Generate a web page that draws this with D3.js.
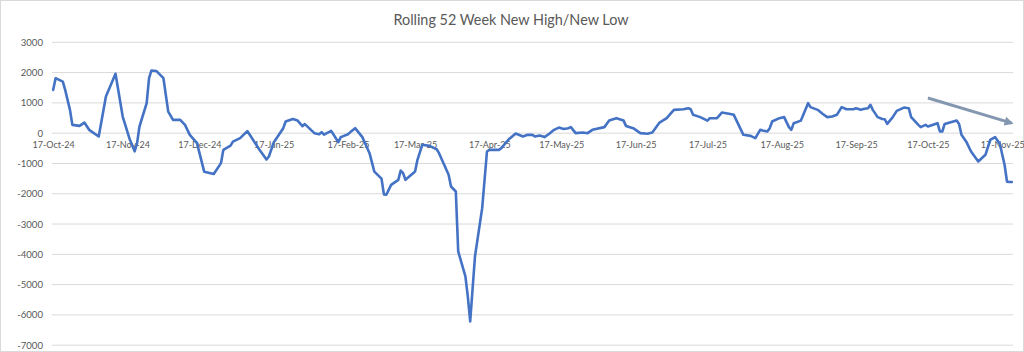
<!DOCTYPE html>
<html>
<head>
<meta charset="utf-8">
<script src="https://cdn.jsdelivr.net/npm/d3@7"></script>
<style>
  html, body { margin: 0; padding: 0; background: #fff; }
  svg { display: block; }
</style>
</head>
<body>
<svg id="chart" width="1024" height="352"></svg>
<script>
const title = "Rolling 52 Week New High/New Low";

const dates = [
  "2024-10-17","2024-10-18","2024-10-21","2024-10-22","2024-10-24","2024-10-25","2024-10-28","2024-10-30",
  "2024-11-01","2024-11-05","2024-11-08","2024-11-12","2024-11-15","2024-11-18","2024-11-20","2024-11-21",
  "2024-11-22","2024-11-25","2024-11-26","2024-11-27","2024-11-29","2024-12-02","2024-12-04","2024-12-06",
  "2024-12-09","2024-12-11","2024-12-13","2024-12-16","2024-12-19","2024-12-23","2024-12-26","2024-12-27",
  "2024-12-30","2024-12-31","2025-01-03","2025-01-06","2025-01-11","2025-01-14","2025-01-15","2025-01-17",
  "2025-01-21","2025-01-22","2025-01-25","2025-01-27","2025-01-29","2025-01-30","2025-02-03","2025-02-05",
  "2025-02-06","2025-02-07","2025-02-10","2025-02-13","2025-02-14","2025-02-17","2025-02-18","2025-02-20",
  "2025-02-23","2025-02-26","2025-02-28","2025-03-03","2025-03-04","2025-03-05","2025-03-07","2025-03-10",
  "2025-03-11","2025-03-12","2025-03-13","2025-03-17","2025-03-18","2025-03-20","2025-03-23","2025-03-26",
  "2025-03-27","2025-03-31","2025-04-01","2025-04-03","2025-04-04","2025-04-07","2025-04-08","2025-04-09",
  "2025-04-11","2025-04-14","2025-04-16","2025-04-17","2025-04-21","2025-04-22","2025-04-25","2025-04-28",
  "2025-05-01","2025-05-03","2025-05-05","2025-05-06","2025-05-08","2025-05-10","2025-05-12","2025-05-14",
  "2025-05-16","2025-05-18","2025-05-20","2025-05-21","2025-05-23","2025-05-26","2025-05-28","2025-05-30",
  "2025-06-04","2025-06-06","2025-06-09","2025-06-12","2025-06-13","2025-06-16","2025-06-19","2025-06-22",
  "2025-06-24","2025-06-27","2025-06-30","2025-07-03","2025-07-07","2025-07-09","2025-07-10","2025-07-11",
  "2025-07-14","2025-07-17","2025-07-18","2025-07-21","2025-07-23","2025-07-26","2025-07-28","2025-07-30",
  "2025-08-01","2025-08-04","2025-08-06","2025-08-08","2025-08-09","2025-08-11","2025-08-12","2025-08-13",
  "2025-08-16","2025-08-18","2025-08-20","2025-08-21","2025-08-22","2025-08-25","2025-08-26","2025-08-28",
  "2025-08-29","2025-09-01","2025-09-03","2025-09-05","2025-09-07","2025-09-09","2025-09-11","2025-09-13",
  "2025-09-16","2025-09-17","2025-09-19","2025-09-20","2025-09-22","2025-09-23","2025-09-24","2025-09-26",
  "2025-09-28","2025-09-29","2025-09-30","2025-10-02","2025-10-04","2025-10-07","2025-10-09","2025-10-10",
  "2025-10-13","2025-10-14","2025-10-16","2025-10-17","2025-10-21","2025-10-22","2025-10-23","2025-10-24",
  "2025-10-29","2025-10-30","2025-10-31","2025-11-02","2025-11-04","2025-11-07","2025-11-10","2025-11-12",
  "2025-11-14","2025-11-16","2025-11-18","2025-11-19","2025-11-20","2025-11-21"
];

const values = [
  1430,1815,1700,1430,770,275,240,350,
  110,-110,1210,1960,550,-220,-600,-330,
  220,990,1815,2070,2055,1815,710,440,
  440,275,-55,-330,-1270,-1350,-990,-550,
  -410,-280,-165,70,-540,-870,-770,-310,
  165,385,465,415,230,300,0,-35,
  35,-50,75,-300,-130,-35,35,165,
  -130,-660,-1270,-1500,-2020,-2035,-1705,-1540,
  -1235,-1320,-1540,-1265,-880,-385,-420,-530,
  -660,-1375,-1760,-1925,-3905,-4730,-5390,-6215,
  -4070,-2475,-605,-550,-550,-495,-210,-10,
  -110,-55,-55,-110,-80,-130,-20,110,
  185,140,165,200,0,20,0,110,
  200,415,495,415,240,165,0,-20,
  20,350,495,770,790,825,790,605,
  530,415,495,495,680,640,605,275,
  -55,-90,-165,110,85,55,165,385,
  495,530,200,110,330,415,605,990,
  860,770,640,530,550,605,860,790,
  790,825,770,800,825,935,770,530,
  470,460,305,495,735,845,825,530,
  275,200,275,220,330,55,55,305,
  415,305,-55,-280,-605,-935,-715,-220,
  -130,-350,-1050,-1600,-1610,-1610
];

const xTickLabels = ["17-Oct-24","17-Nov-24","17-Dec-24","17-Jan-25","17-Feb-25","17-Mar-25","17-Apr-25",
  "17-May-25","17-Jun-25","17-Jul-25","17-Aug-25","17-Sep-25","17-Oct-25","17-Nov-25"];
const yTicks = [3000,2000,1000,0,-1000,-2000,-3000,-4000,-5000,-6000,-7000];

// trend arrow annotation (start and end in data space)
const arrowFrom = { date: "2025-10-17", value: 1160 };
const arrowTo   = { date: "2025-11-21", value: 330 };

const parse = d3.timeParse("%Y-%m-%d");
const parseLabel = d3.timeParse("%d-%b-%y");
const data = dates.map((d, i) => ({ date: parse(d), value: values[i] }));

const svg = d3.select("#chart");
const W = 1024, H = 352;
const pLeft = 52, pRight = 1013, pTop = 42.3, pBottom = 345.2;
const txt = "#595959";
const font = "Lato, 'Open Sans', sans-serif";

// chart border
svg.append("rect").attr("x", 0.5).attr("y", 0.5).attr("width", W - 1).attr("height", H - 1)
  .attr("fill", "#fff").attr("stroke", "#d9d9d9").attr("stroke-width", 1);

const first = data[0].date, last = data[data.length - 1].date;
const x = d3.scaleTime()
  .domain([d3.timeHour.offset(first, -12), d3.timeHour.offset(last, 12)])
  .range([pLeft, pRight]);
const y = d3.scaleLinear().domain([-7000, 3000]).range([pBottom, pTop]);

// gridlines
svg.append("g").selectAll("line").data(yTicks).join("line")
  .attr("x1", pLeft).attr("x2", pRight)
  .attr("y1", d => y(d)).attr("y2", d => y(d))
  .attr("stroke", "#d9d9d9").attr("stroke-width", 1);

// y axis labels
const yAxis = d3.axisLeft(y).tickValues(yTicks).tickSize(0).tickPadding(9)
  .tickFormat(d => String(d));
const gy = svg.append("g").attr("transform", `translate(${pLeft},0)`).call(yAxis);
gy.select(".domain").remove();
gy.selectAll("text").attr("fill", txt).style("font-family", font).style("font-size", "9.6px");

// x axis labels at zero line
const xAxis = d3.axisBottom(x).tickValues(xTickLabels.map(parseLabel)).tickSize(0).tickPadding(8.5)
  .tickFormat((d, i) => xTickLabels[i]);
const gx = svg.append("g").attr("transform", `translate(0,${y(0)})`).call(xAxis);
gx.select(".domain").remove();
gx.selectAll("text").attr("fill", txt).style("font-family", font).style("font-size", "9px");

// line
const line = d3.line().x(d => x(d.date)).y(d => y(d.value));
svg.append("path").datum(data)
  .attr("d", line)
  .attr("fill", "none")
  .attr("stroke", "#4472c4")
  .attr("stroke-width", 2.6)
  .attr("stroke-linejoin", "round")
  .attr("stroke-linecap", "round");

// arrow
const defs = svg.append("defs");
defs.append("marker").attr("id", "ah")
  .attr("viewBox", "0 0 10 10").attr("refX", 8).attr("refY", 5)
  .attr("markerWidth", 3.4).attr("markerHeight", 3).attr("markerUnits", "strokeWidth")
  .attr("orient", "auto")
  .append("path").attr("d", "M0,0 L10,5 L0,10 Z").attr("fill", "#8497b0");
svg.append("line")
  .attr("x1", x(parse(arrowFrom.date))).attr("y1", y(arrowFrom.value))
  .attr("x2", x(parse(arrowTo.date))).attr("y2", y(arrowTo.value))
  .attr("stroke", "#8497b0").attr("stroke-width", 3)
  .attr("marker-end", "url(#ah)");

// title
svg.append("text")
  .attr("x", 511).attr("y", 25)
  .attr("text-anchor", "middle")
  .attr("fill", txt)
  .style("font-family", font)
  .style("font-size", "14.4px")
  .text(title);
</script>
</body>
</html>
